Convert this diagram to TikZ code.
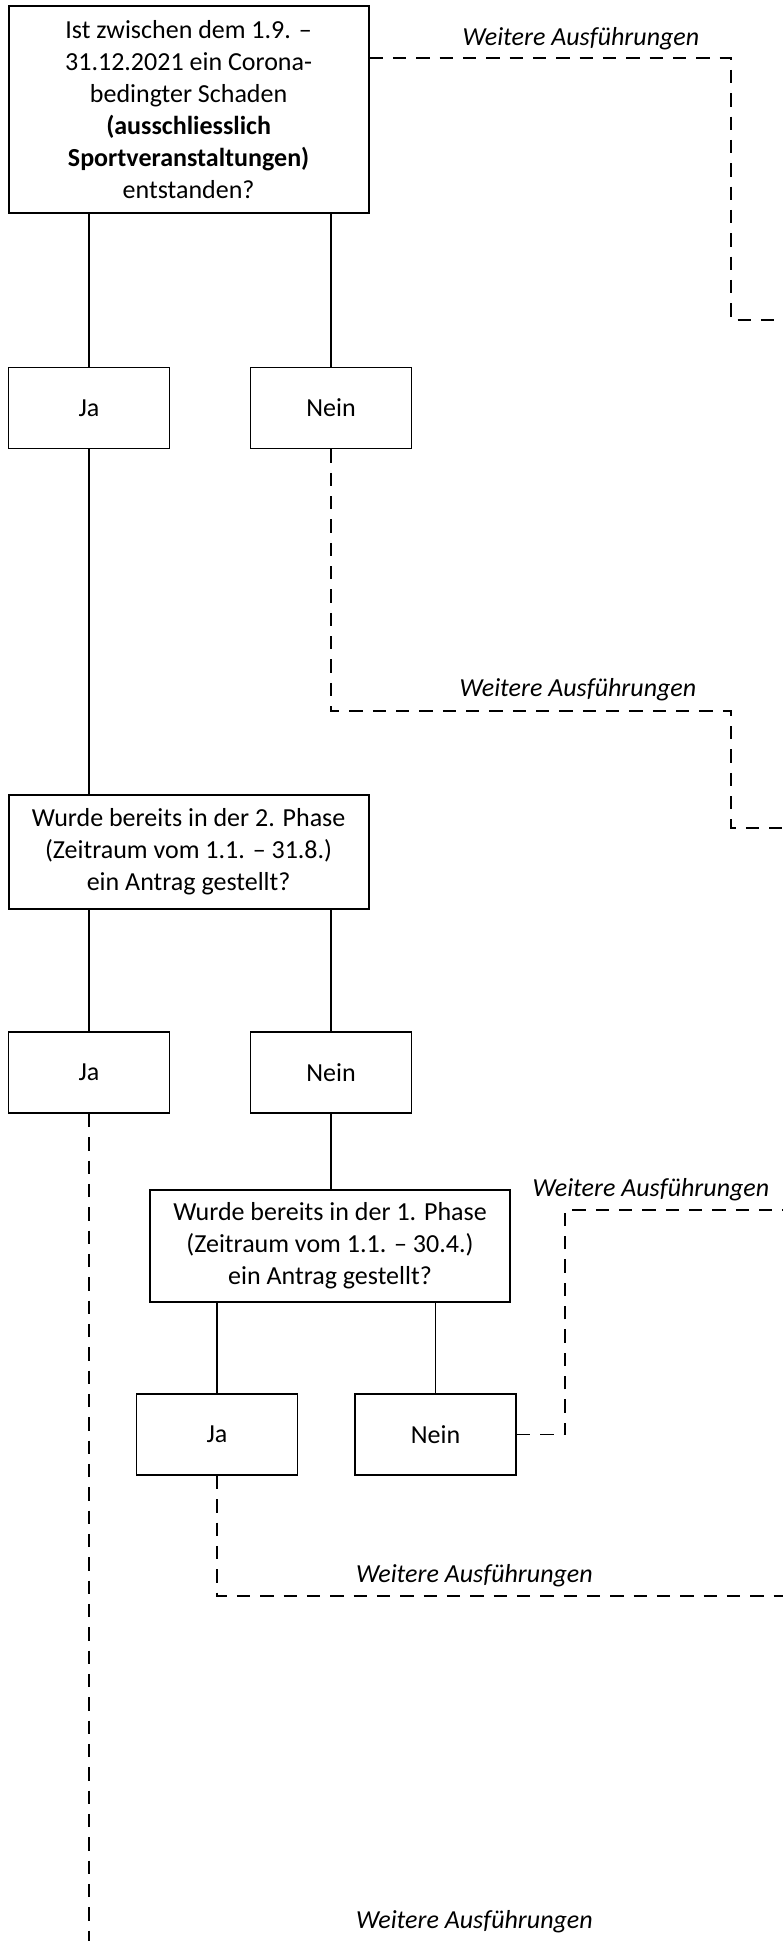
\documentclass[tikz,border=0pt]{standalone}
\usepackage{fontspec}
\setmainfont{Carlito}
\begin{document}
\begin{tikzpicture}[x=0.75pt,y=-0.75pt,
  box/.style={draw, line width=1.4pt, inner sep=0pt, align=center, font=\fontsize{19.5pt}{24pt}\selectfont},
  small/.style={box, minimum width=120.75pt, minimum height=60.75pt},
  big/.style={box, minimum width=270pt},
  conn/.style={line width=1.1pt},
  dashconn/.style={line width=1.1pt, dash pattern=on 10pt off 7.5pt},
  note/.style={font=\fontsize{19.5pt}{24pt}\selectfont\itshape, inner sep=0pt}]
\useasboundingbox (0,0) rectangle (783,1941);
% boxes
\node[big, minimum height=155pt] (q1) at (188.6,109.5) {Ist zwischen dem 1.9. –\\31.12.2021 ein Corona-\\bedingter Schaden\\\textbf{(ausschliesslich}\\\textbf{Sportveranstaltungen)}\\entstanden?};
\node[small] (ja1) at (89,408) {Ja};
\node[small] (nein1) at (331,408) {Nein};
\node[big, minimum height=85.5pt] (q2) at (188.6,852) {Wurde bereits in der 2. Phase\\(Zeitraum vom 1.1. – 31.8.)\\ein Antrag gestellt?};
\node[small] (ja2) at (89,1072.5) {Ja};
\node[small] (nein2) at (331,1072.5) {Nein};
\node[big, minimum height=84pt] (q3) at (330,1246) {Wurde bereits in der 1. Phase\\(Zeitraum vom 1.1. – 30.4.)\\ein Antrag gestellt?};
\node[small] (ja3) at (217,1434.5) {Ja};
\node[small] (nein3) at (435.5,1434.5) {Nein};
% labels
\node[note] (l1) at (581,39) {Weitere Ausführungen};
\node[note] (l2) at (578,690) {Weitere Ausführungen};
\node[note] (l3) at (651,1190) {Weitere Ausführungen};
\node[note] (l4) at (474.5,1576) {Weitere Ausführungen};
\node[note] (l5) at (474.5,1922) {Weitere Ausführungen};
% free ends and corners
\coordinate (e1) at (783,320);
\coordinate (e2) at (783,828);
\coordinate (e3) at (783,1210);
\coordinate (e4) at (783,1596);
\coordinate (e5) at (91,1941);
\coordinate (k1) at (731,58);
\coordinate (k2) at (731,711);
\coordinate (k3) at (565,1210);
% solid connectors
\draw[conn] (q1.south -| ja1) -- (ja1.north);
\draw[conn] (q1.south -| nein1) -- (nein1.north);
\draw[conn] (ja1.south) -- (q2.north -| ja1);
\draw[conn] (q2.south -| ja2) -- (ja2.north);
\draw[conn] (q2.south -| nein2) -- (nein2.north);
\draw[conn] (nein2.south) -- (q3.north -| nein2);
\draw[conn] (q3.south -| ja3) -- (ja3.north);
\draw[conn] (q3.south -| nein3) -- (nein3.north);
% dashed connectors
\draw[dashconn] (k1 -| q1.east) -- (k1) -- (k1 |- e1) -- (e1);
\draw[dashconn] (nein1.south) -- (nein1.south |- k2) -- (k2) -- (k2 |- e2) -- (e2);
\draw[dashconn] (nein3.east) -- (nein3.east -| k3) -- (k3) -- (e3);
\draw[dashconn] (ja3.south) -- (ja3.south |- e4) -- (e4);
\draw[dashconn] (ja2.south) -- (ja2.south |- e5);
\end{tikzpicture}
\end{document}
